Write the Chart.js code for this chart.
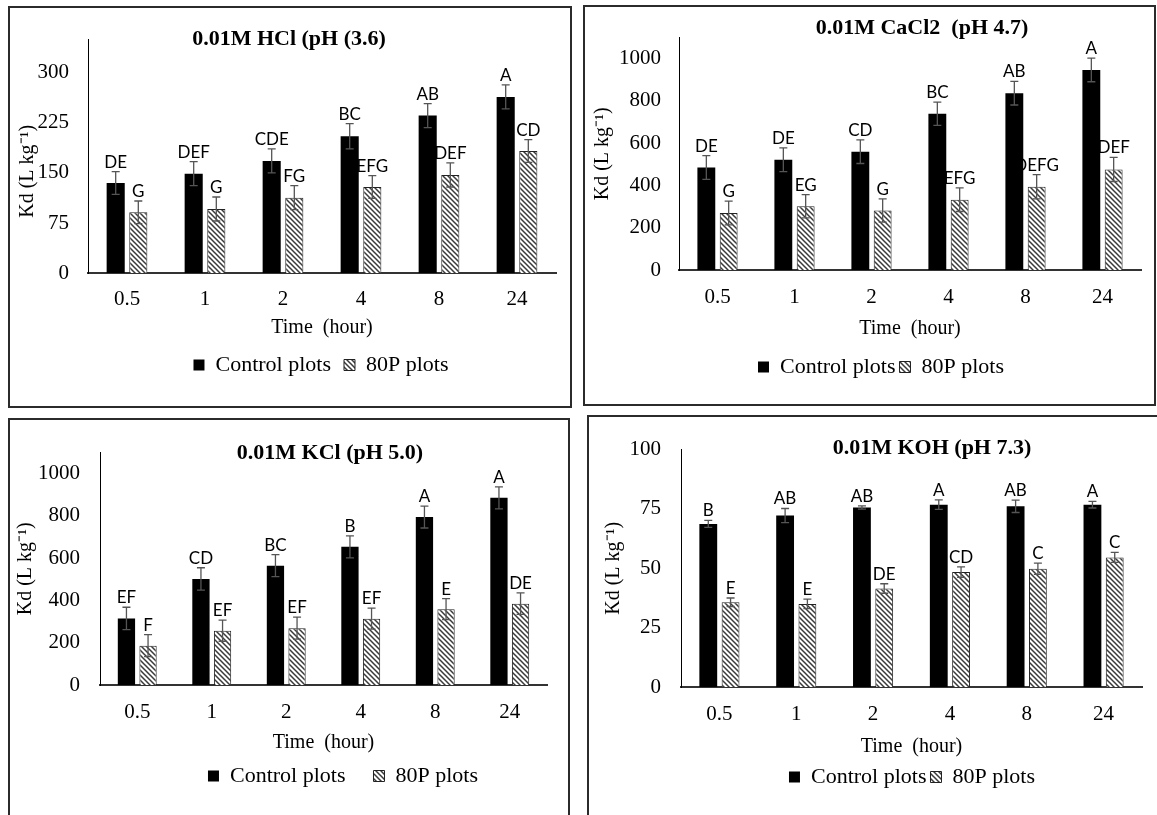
<!DOCTYPE html>
<html>
<head>
<meta charset="utf-8">
<title>Kd vs time</title>
<script src="https://cdn.jsdelivr.net/npm/chart.js@4.4.1/dist/chart.umd.min.js"></script>
<style>
html, body { margin: 0; padding: 0; background: #fff; overflow: hidden; }
.panel { position: absolute; box-sizing: border-box; border: 2px solid #2b2b2b; background: #fff; }
.panel canvas { display: block; }
</style>
</head>
<body>
<div class="panel" id="p1"><canvas id="c1"></canvas></div>
<div class="panel" id="p2"><canvas id="c2"></canvas></div>
<div class="panel" id="p3"><canvas id="c3"></canvas></div>
<div class="panel" id="p4"><canvas id="c4"></canvas></div>
<script>
const hours = ['0.5', '1', '2', '4', '8', '24'];

// 0.01M HCl
const hclControl = [135, 149, 168, 205, 236, 264];
const hclControlErr = [17, 18, 18, 19, 18, 18];
const hclControlLetters = ['DE', 'DEF', 'CDE', 'BC', 'AB', 'A'];
const hcl80P = [91, 96, 113, 129, 147, 183];
const hcl80PErr = [17, 18, 18, 17, 18, 17];
const hcl80PLetters = ['G', 'G', 'FG', 'EFG', 'DEF', 'CD'];
const hclTicks = [0, 75, 150, 225, 300];

// 0.01M CaCl2
const caControl = [485, 522, 560, 740, 837, 947];
const caControlErr = [56, 56, 56, 55, 56, 56];
const caControlLetters = ['DE', 'DE', 'CD', 'BC', 'AB', 'A'];
const ca80P = [270, 302, 282, 333, 394, 476];
const ca80PErr = [56, 55, 55, 56, 57, 57];
const ca80PLetters = ['G', 'EG', 'G', 'EFG', 'DEFG', 'DEF'];
const caTicks = [0, 200, 400, 600, 800, 1000];

// 0.01M KCl
const kclControl = [315, 502, 565, 654, 795, 886];
const kclControlErr = [53, 53, 52, 52, 52, 52];
const kclControlLetters = ['EF', 'CD', 'BC', 'B', 'A', 'A'];
const kcl80P = [186, 257, 269, 314, 359, 385];
const kcl80PErr = [52, 50, 52, 50, 50, 51];
const kcl80PLetters = ['F', 'EF', 'EF', 'EF', 'E', 'DE'];
const kclTicks = [0, 200, 400, 600, 800, 1000];

// 0.01M KOH
const kohControl = [68.7, 72.2, 75.6, 76.8, 76.1, 76.8];
const kohControlErr = [1.5, 3, 0.7, 2, 2.6, 1.4];
const kohControlLetters = ['B', 'AB', 'AB', 'A', 'AB', 'A'];
const koh80P = [35.7, 35, 41.5, 48.4, 49.8, 54.6];
const koh80PErr = [1.8, 2, 2, 2.2, 2.4, 2.1];
const koh80PLetters = ['E', 'E', 'DE', 'CD', 'C', 'C'];
const kohTicks = [0, 25, 50, 75, 100];

const seriesNames = ['Control plots', '80P plots'];

const panels = [
    { n: 1, title: '0.01M HCl (pH (3.6)', box: [8, 6, 564, 402],
      left: 88, right: 556, top: 28, bottom: 273, max: 350, ticks: hclTicks,
      xTickY: 299, xTitleY: 328, legendY: 365, legendX: 321, legendPad: 13,
      yTitleX: 28, yTickGap: 19, titleX: 289, titleY: 39, yShift: 6,
      control: hclControl, controlErr: hclControlErr, controlLetters: hclControlLetters,
      p80: hcl80P, p80Err: hcl80PErr, p80Letters: hcl80PLetters },
    { n: 2, title: '0.01M CaCl2  (pH 4.7)', box: [583, 5, 573, 401],
      left: 679, right: 1141, top: 30, bottom: 270, max: 1100, ticks: caTicks,
      xTickY: 297, xTitleY: 329, legendY: 367, legendX: 881, legendPad: 4,
      yTitleX: 603, yTickGap: 18, titleX: 922, titleY: 28, yShift: 0,
      control: caControl, controlErr: caControlErr, controlLetters: caControlLetters,
      p80: ca80P, p80Err: ca80PErr, p80Letters: ca80PLetters },
    { n: 3, title: '0.01M KCl (pH 5.0)', box: [8, 418, 562, 420],
      left: 100, right: 547, top: 444, bottom: 685, max: 1100, ticks: kclTicks,
      xTickY: 712, xTitleY: 743, legendY: 776, legendX: 343, legendPad: 28,
      yTitleX: 26, yTickGap: 20, titleX: 330, titleY: 453, yShift: 0,
      control: kclControl, controlErr: kclControlErr, controlLetters: kclControlLetters,
      p80: kcl80P, p80Err: kcl80PErr, p80Letters: kcl80PLetters },
    { n: 4, title: '0.01M KOH (pH 7.3)', box: [587, 415, 580, 420],
      left: 681, right: 1142, top: 443, bottom: 687, max: 100, ticks: kohTicks,
      xTickY: 714, xTitleY: 747, legendY: 777, legendX: 912, legendPad: 4,
      yTitleX: 614, yTickGap: 20, titleX: 932, titleY: 448, yShift: 0,
      control: kohControl, controlErr: kohControlErr, controlLetters: kohControlLetters,
      p80: koh80P, p80Err: koh80PErr, p80Letters: koh80PLetters }
];

Chart.defaults.font.family = '"Liberation Serif", "Times New Roman", serif';
Chart.defaults.color = '#000';

function hatch(ctx) {
    const c = document.createElement('canvas');
    c.width = 5; c.height = 5;
    const g = c.getContext('2d');
    g.fillStyle = '#fff';
    g.fillRect(0, 0, 5, 5);
    g.strokeStyle = '#3a3a3a';
    g.lineWidth = 1.5;
    g.beginPath();
    g.moveTo(-1, -1); g.lineTo(6, 6);
    g.moveTo(-1, 4); g.lineTo(1, 6);
    g.moveTo(4, -1); g.lineTo(6, 1);
    g.stroke();
    return ctx.createPattern(c, 'repeat');
}

// error bars, letters, title and legend placement
const extras = {
    id: 'extras',
    afterLayout(chart, args, o) {
        const lg = chart.legend;
        const h = lg.height;
        lg.top = o.legendTop;
        lg.bottom = lg.top + h;
        const dx = o.legendX - (lg.left + lg.right) / 2;
        lg.left += dx;
        lg.right += dx;
    },
    afterDatasetsDraw(chart) {
        const ctx = chart.ctx;
        const y = chart.scales.y;
        chart.data.datasets.forEach((ds, di) => {
            chart.getDatasetMeta(di).data.forEach((bar, i) => {
                const v = ds.data[i], e = ds.errors[i];
                const yTop = y.getPixelForValue(v + e);
                const yBot = y.getPixelForValue(v - e);
                ctx.save();
                ctx.strokeStyle = '#555';
                ctx.lineWidth = 1.3;
                ctx.beginPath();
                ctx.moveTo(bar.x, yTop); ctx.lineTo(bar.x, yBot);
                ctx.moveTo(bar.x - 4, yTop); ctx.lineTo(bar.x + 4, yTop);
                ctx.moveTo(bar.x - 4, yBot); ctx.lineTo(bar.x + 4, yBot);
                ctx.stroke();
                ctx.fillStyle = '#000';
                ctx.font = '17px Lato, "Open Sans", sans-serif';
                ctx.textAlign = 'center';
                ctx.textBaseline = 'alphabetic';
                ctx.fillText(ds.letters[i], bar.x, yTop - 4);
                ctx.restore();
            });
        });
    },
    afterDraw(chart, args, o) {
        const ctx = chart.ctx;
        ctx.save();
        ctx.fillStyle = '#000';
        ctx.font = 'bold 22px "Liberation Serif", serif';
        ctx.textAlign = 'center';
        ctx.textBaseline = 'middle';
        ctx.fillText(o.title, o.titleX, o.titleY);
        ctx.restore();
    }
};

panels.forEach(p => {
    const div = document.getElementById('p' + p.n);
    const [bx, by, bw, bh] = p.box;
    div.style.left = bx + 'px';
    div.style.top = by + 'px';
    div.style.width = bw + 'px';
    div.style.height = bh + 'px';
    const ox = bx + 2, oy = by + 2, cw = bw - 4, ch = bh - 4;

    const canvas = document.getElementById('c' + p.n);
    canvas.width = cw;
    canvas.height = ch;
    const ctx = canvas.getContext('2d');

    const tickFont = 21, titleFont = 20, legendFont = 22;
    const legendTop = p.legendY - p.legendPad - legendFont / 2;
    const legendH = legendFont + p.legendPad + 10;
    const axisH = legendTop - p.bottom;
    const padBottom = (oy + ch) - (legendTop + legendH);

    new Chart(ctx, {
        type: 'bar',
        data: {
            labels: hours,
            datasets: [{
                label: seriesNames[0],
                data: p.control,
                errors: p.controlErr,
                letters: p.controlLetters,
                backgroundColor: '#000',
                borderWidth: 0,
                categoryPercentage: 0.58,
                barPercentage: 0.8
            }, {
                label: seriesNames[1],
                data: p.p80,
                errors: p.p80Err,
                letters: p.p80Letters,
                backgroundColor: hatch(ctx),
                borderColor: '#222',
                borderWidth: 1,
                categoryPercentage: 0.58,
                barPercentage: 0.8
            }]
        },
        options: {
            responsive: false,
            animation: false,
            layout: {
                padding: { top: p.top - oy, right: ox + cw - p.right, bottom: padBottom, left: 0 }
            },
            scales: {
                x: {
                    grid: { display: false, drawTicks: false },
                    border: { display: true, color: '#333', width: 2 },
                    ticks: { font: { size: tickFont }, padding: p.xTickY - p.bottom - tickFont * 0.6, maxRotation: 0, autoSkip: false },
                    title: { display: true, text: 'Time  (hour)', font: { size: titleFont },
                             padding: { top: 0, bottom: legendTop - p.xTitleY - titleFont * 0.6 } },
                    afterFit: s => { s.height = axisH; }
                },
                y: {
                    min: 0,
                    max: p.max,
                    grid: { display: false, drawTicks: false },
                    border: { display: true, color: '#000', width: 1 },
                    ticks: { font: { size: tickFont }, padding: p.yTickGap, callback: v => String(v) },
                    afterBuildTicks: s => { s.ticks = p.ticks.map(v => ({ value: v })); },
                    title: { display: true, text: 'Kd (L kg\u207B\u00B9)' + '\u00a0'.repeat(p.yShift), font: { size: titleFont },
                             padding: { top: p.yTitleX - ox - titleFont * 0.6, bottom: 0 } },
                    afterFit: s => { s.width = p.left - ox; }
                }
            },
            plugins: {
                legend: {
                    position: 'bottom',
                    labels: { boxWidth: 11, boxHeight: 11, padding: p.legendPad, font: { size: legendFont }, color: '#000' }
                },
                tooltip: { enabled: false },
                extras: {
                    legendTop: legendTop - oy,
                    legendX: p.legendX - ox,
                    title: p.title,
                    titleX: p.titleX - ox,
                    titleY: p.titleY - oy
                }
            }
        },
        plugins: [extras]
    });
});
</script>
</body>
</html>
